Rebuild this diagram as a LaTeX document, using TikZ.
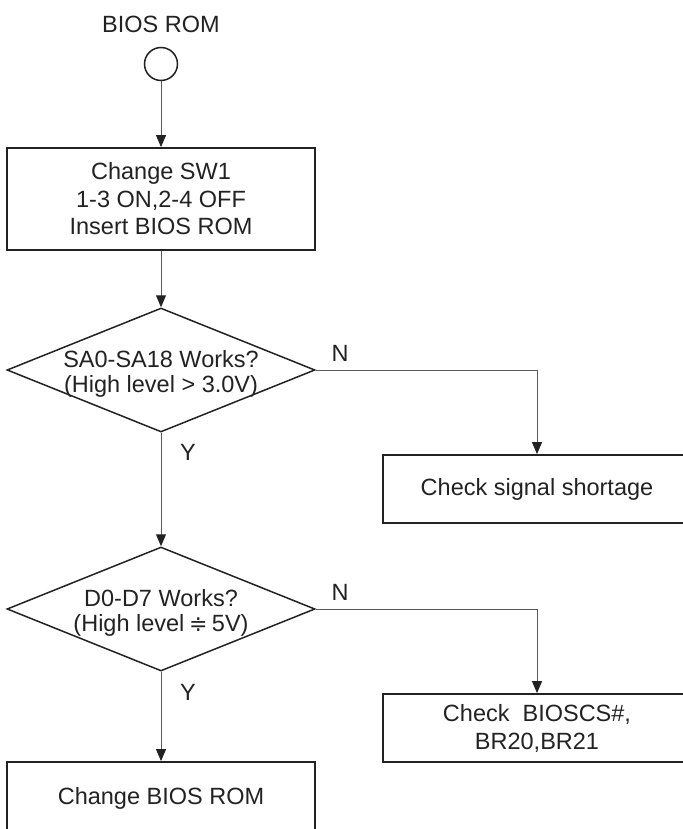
\documentclass[tikz,border=0pt]{standalone}
\usepackage{fontspec}
\setmainfont{Liberation Sans}
\newfontfamily\symfont{DejaVu Sans}
\usetikzlibrary{shapes.geometric,arrows.meta}
\definecolor{ink}{HTML}{222222}
\definecolor{wire}{HTML}{5A5A5A}
\begin{document}
\begin{tikzpicture}[x=1pt,y=-1pt,
  font=\fontsize{23.5}{27.5}\selectfont, text=ink,
  box/.style={draw=ink, line width=1.8pt, rectangle, inner sep=0pt, align=center, minimum width=308pt},
  dia/.style={draw=ink, line width=1.5pt, diamond, minimum width=308pt, minimum height=124pt, inner sep=0pt},
  dtext/.style={align=center, inner sep=0pt, font=\fontsize{23.5}{25}\selectfont},
  conn/.style={draw=wire, line width=1pt, -{Triangle[width=10pt,length=12pt,color=ink]}},
  lbl/.style={anchor=base, inner sep=0pt}]
\useasboundingbox (0,0) rectangle (682,829);

\node[lbl] (title) at (161,33) {BIOS ROM};
\node[circle, draw=ink, line width=1.5pt, minimum size=33pt, inner sep=0pt] (start) at (161,64) {};
\node[box, minimum height=102pt] (b1) at (161,199) {Change SW1\\1-3 ON,2-4 OFF\\Insert BIOS ROM};

\node[dia] (d1) at (161,370) {};
\node[dtext] (t1) at (161,373.5) {SA0-SA18 Works?\\(High level > 3.0V)};
\node[box, minimum height=68pt] (b2) at (537,489) {Check signal shortage};

\node[dia] (d2) at (161,609) {};
\node[dtext] (t2) at (161,612.5) {D0-D7 Works?\\(High level\hspace{-2pt} {\symfont\fontsize{22}{22}\selectfont ≑}\hspace{-2pt} 5V)};
\node[box, minimum height=68pt, font=\fontsize{23.5}{28}\selectfont] (b3) at (537,728) {Check\ \ BIOSCS\#,\\BR20,BR21};

\node[box, minimum height=72pt] (b4) at (161,798) {Change BIOS ROM};

\node[lbl] (n1) at (340,361) {N};
\node[lbl] (y1) at (188,460) {Y};
\node[lbl] (n2) at (340,600) {N};
\node[lbl] (y2) at (188,700) {Y};

\draw[conn] (start.south) -- (b1.north);
\draw[conn] (b1.south) -- (d1.north);
\draw[conn] (d1.east) -| (b2.north);
\draw[conn] (d1.south) -- (d2.north);
\draw[conn] (d2.east) -| (b3.north);
\draw[conn] (d2.south) -- (b4.north);
\end{tikzpicture}
\end{document}
